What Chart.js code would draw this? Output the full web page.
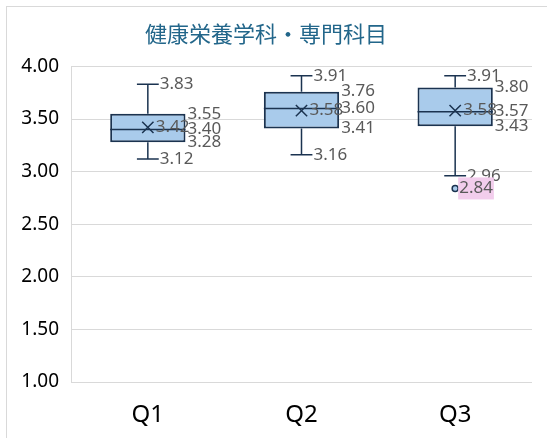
<!DOCTYPE html>
<html lang="ja">
<head>
<meta charset="UTF-8">
<script src="https://cdn.jsdelivr.net/npm/chart.js"></script>
<style>
    html, body { margin: 0; padding: 0; background: #fff; }
    #wrap { position: relative; width: 547px; height: 438px; }
</style>
</head>
<body>
<div id="wrap"><canvas id="box" width="547" height="438"></canvas></div>
<script>
// データ（箱ひげ図の統計値）
const categories = ['Q1', 'Q2', 'Q3'];
const minVals    = [3.12, 3.16, 2.96];
const q1Vals     = [3.28, 3.41, 3.43];
const medianVals = [3.40, 3.60, 3.57];
const q3Vals     = [3.55, 3.76, 3.80];
const maxVals    = [3.83, 3.91, 3.91];
const meanVals   = [3.42, 3.58, 3.58];
const outliers   = [null, null, 2.84];
const yTicks     = [1.00, 1.50, 2.00, 2.50, 3.00, 3.50, 4.00];

const NAVY = '#1b3350';
const FILL = '#a9cbeb';
const LABEL = '#595959';
const LABEL_FONT = '17px "Noto Sans", sans-serif';

// 外枠
const framePlugin = {
    id: 'frame',
    beforeDraw(chart) {
        const ctx = chart.ctx;
        ctx.save();
        ctx.strokeStyle = '#d9d9d9';
        ctx.lineWidth = 1;
        ctx.strokeRect(6.5, 6.5, 700, 700);
        ctx.restore();
    }
};

// ひげ・中央値線・ラベル
const boxPlugin = {
    id: 'boxExtras',
    afterDatasetsDraw(chart) {
        const ctx = chart.ctx;
        const x = chart.scales.x;
        const y = chart.scales.y;
        const meta = chart.getDatasetMeta(0);
        ctx.save();
        categories.forEach((c, i) => {
            const bar = meta.data[i];
            const cx = x.getPixelForValue(i);
            const half = bar.width / 2;
            const cap = half * 0.29;
            const pMin = y.getPixelForValue(minVals[i]);
            const pMax = y.getPixelForValue(maxVals[i]);
            const pQ1 = y.getPixelForValue(q1Vals[i]);
            const pQ3 = y.getPixelForValue(q3Vals[i]);
            const pMed = y.getPixelForValue(medianVals[i]);

            ctx.strokeStyle = NAVY;
            ctx.lineWidth = 1.5;
            ctx.beginPath();
            // ひげ
            ctx.moveTo(cx, pQ3); ctx.lineTo(cx, pMax);
            ctx.moveTo(cx - cap, pMax); ctx.lineTo(cx + cap, pMax);
            ctx.moveTo(cx, pQ1); ctx.lineTo(cx, pMin);
            ctx.moveTo(cx - cap, pMin); ctx.lineTo(cx + cap, pMin);
            // 中央値
            ctx.moveTo(cx - half, pMed); ctx.lineTo(cx + half, pMed);
            ctx.stroke();

            // ラベル
            ctx.font = LABEL_FONT;
            ctx.fillStyle = LABEL;
            ctx.textBaseline = 'middle';
            ctx.textAlign = 'left';
            ctx.fillText(maxVals[i].toFixed(2), cx + cap + 1, pMax);
            ctx.fillText(minVals[i].toFixed(2), cx + cap + 1, pMin);
            ctx.fillText(q3Vals[i].toFixed(2), cx + half + 2, pQ3);
            ctx.fillText(medianVals[i].toFixed(2), cx + half + 2, pMed);
            ctx.fillText(q1Vals[i].toFixed(2), cx + half + 2, pQ1);
            ctx.fillText(meanVals[i].toFixed(2), cx + 8, y.getPixelForValue(meanVals[i]));

            // 外れ値ラベル
            if (outliers[i] !== null) {
                const py = y.getPixelForValue(outliers[i]);
                const txt = outliers[i].toFixed(2);
                const w = ctx.measureText(txt).width;
                ctx.fillStyle = '#f2cdec';
                ctx.fillRect(cx + 3, py - 11, w + 2, 22);
                ctx.fillStyle = LABEL;
                ctx.fillText(txt, cx + 4, py);
            }
        });
        ctx.restore();
    }
};

const ctx = document.getElementById('box').getContext('2d');
const chart = new Chart(ctx, {
    type: 'bar',
    data: {
        labels: categories,
        datasets: [
            {
                label: 'box',
                data: categories.map((c, i) => [q1Vals[i], q3Vals[i]]),
                backgroundColor: FILL,
                borderColor: NAVY,
                borderWidth: 2,
                borderSkipped: false,
                categoryPercentage: 1,
                barPercentage: 0.49,
                order: 2
            },
            {
                type: 'line',
                label: 'mean',
                data: meanVals,
                showLine: false,
                pointStyle: 'crossRot',
                pointRadius: 8,
                pointBorderWidth: 1.5,
                pointBorderColor: NAVY,
                order: 1
            },
            {
                type: 'line',
                label: 'outlier',
                data: outliers,
                showLine: false,
                pointStyle: 'circle',
                pointRadius: 3,
                pointBorderWidth: 1.5,
                pointBackgroundColor: FILL,
                pointBorderColor: NAVY,
                order: 1
            }
        ]
    },
    options: {
        responsive: false,
        animation: false,
        devicePixelRatio: 1,
        layout: { padding: { left: 0, right: 15, top: 20, bottom: 0 } },
        plugins: {
            legend: { display: false },
            tooltip: { enabled: false },
            title: {
                display: true,
                text: '健康栄養学科・専門科目',
                color: '#22668a',
                font: { family: '"Noto Sans CJK JP", sans-serif', size: 22, weight: 'normal' },
                padding: { top: 0, bottom: 20 }
            }
        },
        scales: {
            x: {
                grid: { display: false },
                border: { display: false },
                ticks: {
                    color: '#000',
                    padding: 11,
                    font: { family: '"Noto Sans", sans-serif', size: 24 }
                },
                afterFit(scale) { scale.height = 56; }
            },
            y: {
                min: 1,
                max: 4,
                afterBuildTicks(scale) { scale.ticks = yTicks.map(v => ({ value: v })); },
                grid: { color: '#d9d9d9', drawTicks: false },
                border: { display: true, color: '#d9d9d9' },
                ticks: {
                    color: '#000',
                    padding: 12,
                    font: { family: '"Noto Sans", sans-serif', size: 19 },
                    callback: v => Number(v).toFixed(2)
                },
                afterFit(scale) { scale.width = 71; }
            }
        }
    },
    plugins: [framePlugin, boxPlugin]
});
</script>
</body>
</html>
